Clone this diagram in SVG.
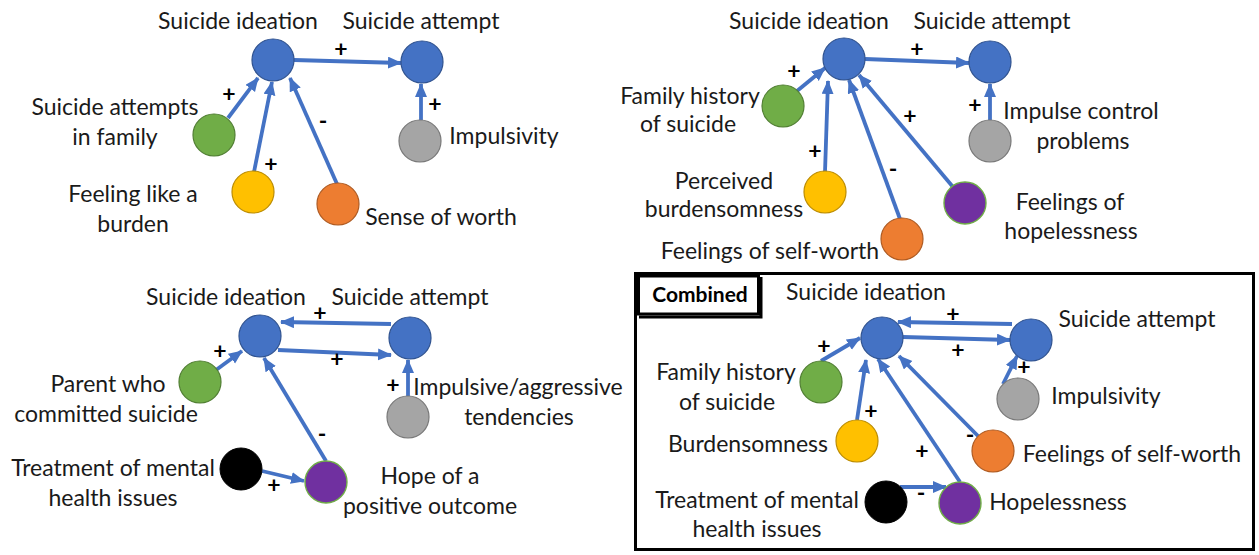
<svg xmlns="http://www.w3.org/2000/svg" width="1259" height="555" viewBox="0 0 1259 555">
  <defs>
    <marker id="ah" markerUnits="userSpaceOnUse" markerWidth="16" markerHeight="14" refX="13" refY="6" orient="auto">
      <path d="M0,0 L14,6 L0,12 z" fill="#4472C4"/>
    </marker>
    <style>
      .lbl{font-family:Lato,'Liberation Sans',sans-serif;font-size:23px;fill:#1a1a1a;text-anchor:middle}
      .sgn{font-family:Lato,'Liberation Sans',sans-serif;font-size:23px;font-weight:bold;fill:#000;text-anchor:middle}
      .edge{stroke:#4472C4;stroke-width:3.8;fill:none;marker-end:url(#ah)}
      .blue{fill:#4472C4;stroke:#2F528F;stroke-width:1.2}
      .green{fill:#70AD47;stroke:#507E32;stroke-width:1.2}
      .yellow{fill:#FFC000;stroke:#BC8C00;stroke-width:1.2}
      .orange{fill:#ED7D31;stroke:#AE5A21;stroke-width:1.2}
      .gray{fill:#A5A5A5;stroke:#787878;stroke-width:1.2}
      .purple{fill:#7030A0;stroke:#70AD47;stroke-width:1.4}
      .black{fill:#000;stroke:#000;stroke-width:1}
      .frame{fill:none;stroke:#000;stroke-width:3}
    </style>
  </defs>
  <rect width="1259" height="555" fill="#fff"/>

  <!-- connectors (drawn first so the circles sit on top) -->
  <g id="connectors">
    <!-- panel 1 -->
    <line class="edge" x1="294" y1="60" x2="401" y2="63"/>
    <line class="edge" x1="228" y1="118" x2="258" y2="78"/>
    <line class="edge" x1="254" y1="172" x2="272" y2="82"/>
    <line class="edge" x1="337" y1="184" x2="290" y2="78"/>
    <line class="edge" x1="421" y1="120" x2="421" y2="84"/>
    <!-- panel 2 -->
    <line class="edge" x1="865" y1="59" x2="969" y2="63"/>
    <line class="edge" x1="797" y1="91" x2="825" y2="68"/>
    <line class="edge" x1="825" y1="172" x2="828" y2="81"/>
    <line class="edge" x1="900" y1="219" x2="849" y2="80"/>
    <line class="edge" x1="953" y1="187" x2="859" y2="75"/>
    <line class="edge" x1="990" y1="120" x2="990" y2="84"/>
    <!-- panel 3 -->
    <line class="edge" x1="391" y1="324" x2="281" y2="322"/>
    <line class="edge" x1="278" y1="350" x2="391" y2="355"/>
    <line class="edge" x1="216" y1="370" x2="242" y2="351"/>
    <line class="edge" x1="408" y1="396" x2="408" y2="360"/>
    <line class="edge" x1="262" y1="471" x2="304" y2="481"/>
    <line class="edge" x1="326" y1="461" x2="264" y2="358"/>
    <!-- combined panel -->
    <line class="edge" x1="1012" y1="324" x2="898" y2="322"/>
    <line class="edge" x1="903" y1="337" x2="1010" y2="340"/>
    <line class="edge" x1="821" y1="361" x2="860" y2="338"/>
    <line class="edge" x1="857" y1="420" x2="866" y2="360"/>
    <line class="edge" x1="978" y1="436" x2="899" y2="356"/>
    <line class="edge" x1="960" y1="482" x2="878" y2="359"/>
    <line class="edge" x1="900" y1="487" x2="946" y2="487"/>
    <line class="edge" x1="1003" y1="384" x2="1017" y2="356"/>

    <!-- polarity signs -->
    <g class="sgn">
      <text x="341" y="57">+</text>
      <text x="229" y="102">+</text>
      <text x="271" y="172">+</text>
      <text x="323" y="129">-</text>
      <text x="435" y="112">+</text>

      <text x="917" y="57">+</text>
      <text x="794" y="79">+</text>
      <text x="815" y="159">+</text>
      <text x="893" y="177">-</text>
      <text x="910" y="124">+</text>
      <text x="975" y="113">+</text>

      <text x="320" y="321">+</text>
      <text x="337" y="367">+</text>
      <text x="220" y="359">+</text>
      <text x="393" y="393">+</text>
      <text x="274" y="493">+</text>
      <text x="322" y="442">-</text>

      <text x="953" y="322">+</text>
      <text x="958" y="358">+</text>
      <text x="824" y="354">+</text>
      <text x="871" y="419">+</text>
      <text x="922" y="459">+</text>
      <text x="970" y="443">-</text>
      <text x="921" y="501">-</text>
      <text x="1024" y="375">+</text>
    </g>
  </g>

  <!-- panel 1 -->
  <g id="p1-ideation"><circle class="blue" cx="273" cy="60" r="21"/><text class="lbl" x="238" y="29">Suicide ideation</text></g>
  <g id="p1-attempt"><circle class="blue" cx="422" cy="62" r="21"/><text class="lbl" x="421" y="29">Suicide attempt</text></g>
  <g id="p1-family"><circle class="green" cx="214" cy="135" r="21"/><text class="lbl" x="115" y="115">Suicide attempts</text><text class="lbl" x="115" y="145">in family</text></g>
  <g id="p1-burden"><circle class="yellow" cx="253" cy="192" r="21"/><text class="lbl" x="133" y="202">Feeling like a</text><text class="lbl" x="133" y="232">burden</text></g>
  <g id="p1-worth"><circle class="orange" cx="338" cy="204" r="21"/><text class="lbl" x="441" y="225">Sense of worth</text></g>
  <g id="p1-impulsivity"><circle class="gray" cx="420" cy="141" r="21"/><text class="lbl" x="504" y="144">Impulsivity</text></g>

  <!-- panel 2 -->
  <g id="p2-ideation"><circle class="blue" cx="844" cy="59" r="21"/><text class="lbl" x="809" y="29">Suicide ideation</text></g>
  <g id="p2-attempt"><circle class="blue" cx="990" cy="62" r="21"/><text class="lbl" x="992" y="29">Suicide attempt</text></g>
  <g id="p2-family"><circle class="green" cx="783" cy="106" r="21"/><text class="lbl" x="690" y="104">Family history</text><text class="lbl" x="688" y="132">of suicide</text></g>
  <g id="p2-burden"><circle class="yellow" cx="825" cy="192" r="21"/><text class="lbl" x="724" y="189">Perceived</text><text class="lbl" x="724" y="217">burdensomness</text></g>
  <g id="p2-worth"><circle class="orange" cx="902" cy="239" r="21"/><text class="lbl" x="770" y="259">Feelings of self-worth</text></g>
  <g id="p2-hopelessness"><circle class="purple" cx="965" cy="203" r="21"/><text class="lbl" x="1070" y="210">Feelings of</text><text class="lbl" x="1071" y="239">hopelessness</text></g>
  <g id="p2-impulse"><circle class="gray" cx="990" cy="141" r="21"/><text class="lbl" x="1081" y="119">Impulse control</text><text class="lbl" x="1083" y="149">problems</text></g>

  <!-- panel 3 -->
  <g id="p3-ideation"><circle class="blue" cx="260" cy="336" r="21"/><text class="lbl" x="226" y="305">Suicide ideation</text></g>
  <g id="p3-attempt"><circle class="blue" cx="410" cy="338" r="21"/><text class="lbl" x="410" y="305">Suicide attempt</text></g>
  <g id="p3-parent"><circle class="green" cx="200" cy="382" r="21"/><text class="lbl" x="108" y="392">Parent who</text><text class="lbl" x="106" y="422">committed suicide</text></g>
  <g id="p3-impulsive"><circle class="gray" cx="408" cy="417" r="21"/><text class="lbl" x="518" y="395">Impulsive/aggressive</text><text class="lbl" x="519" y="425">tendencies</text></g>
  <g id="p3-treatment"><circle class="black" cx="241" cy="469" r="21"/><text class="lbl" x="113" y="476">Treatment of mental</text><text class="lbl" x="113" y="506">health issues</text></g>
  <g id="p3-hope"><circle class="purple" cx="326" cy="482" r="21"/><text class="lbl" x="430" y="484">Hope of a</text><text class="lbl" x="430" y="514">positive outcome</text></g>

  <!-- combined panel -->
  <g id="combined-frame">
    <rect class="frame" x="635.5" y="273.5" width="618" height="276"/>
    <rect class="frame" x="638.5" y="276" width="120" height="38"/>
    <path d="M761 277 V317 H639" fill="none" stroke="#000" stroke-width="3"/>
    <text x="700" y="302" style="font-family:Lato,'Liberation Sans',sans-serif;font-size:21px;font-weight:bold;text-anchor:middle;fill:#000">Combined</text>
  </g>
  <g id="c-ideation"><circle class="blue" cx="882" cy="338" r="21"/><text class="lbl" x="866" y="300">Suicide ideation</text></g>
  <g id="c-attempt"><circle class="blue" cx="1031" cy="340" r="21"/><text class="lbl" x="1137" y="327">Suicide attempt</text></g>
  <g id="c-family"><circle class="green" cx="821" cy="382" r="21"/><text class="lbl" x="726" y="380">Family history</text><text class="lbl" x="727" y="410">of suicide</text></g>
  <g id="c-burden"><circle class="yellow" cx="857" cy="441" r="21"/><text class="lbl" x="748" y="452">Burdensomness</text></g>
  <g id="c-impulsivity"><circle class="gray" cx="1018" cy="399" r="21"/><text class="lbl" x="1106" y="404">Impulsivity</text></g>
  <g id="c-worth"><circle class="orange" cx="993" cy="451" r="21"/><text class="lbl" x="1132" y="462">Feelings of self-worth</text></g>
  <g id="c-treatment"><circle class="black" cx="886" cy="502" r="21"/><text class="lbl" x="757" y="508">Treatment of mental</text><text class="lbl" x="757" y="537">health issues</text></g>
  <g id="c-hopelessness"><circle class="purple" cx="960" cy="503" r="21"/><text class="lbl" x="1058" y="510">Hopelessness</text></g>
</svg>
